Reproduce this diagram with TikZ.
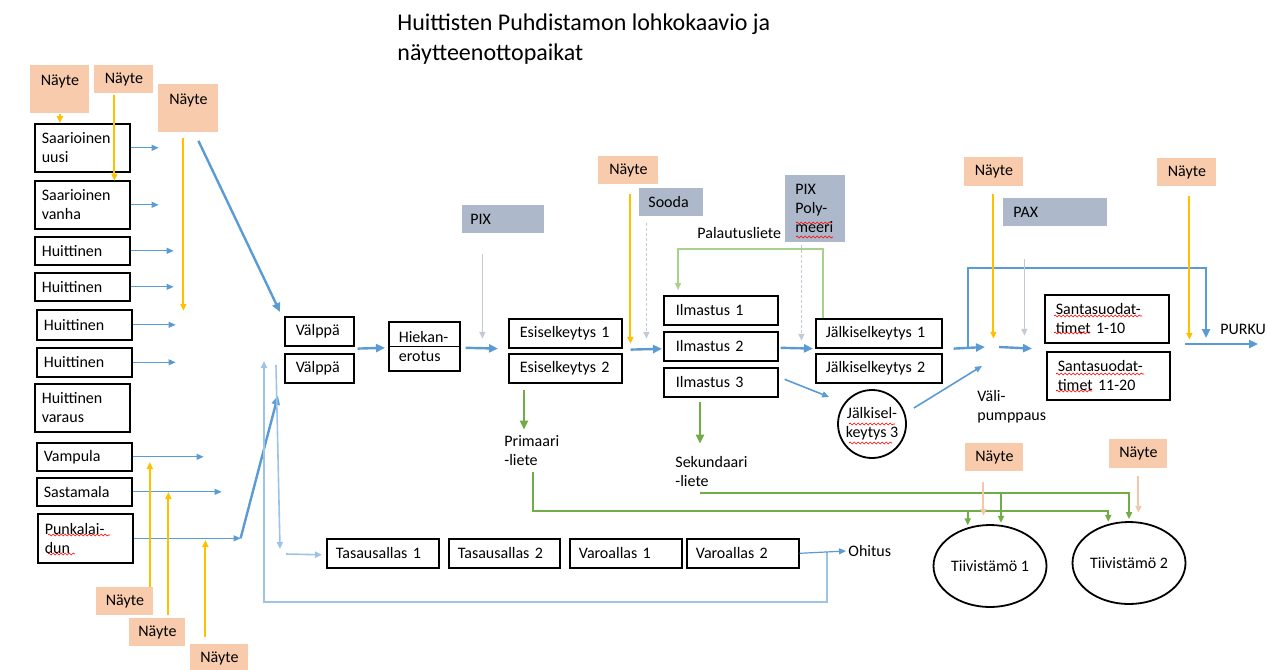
\documentclass[tikz,border=0pt]{standalone}
\usepackage{fontspec}
\setmainfont{Carlito}
\usetikzlibrary{arrows.meta,calc,shapes.geometric,decorations.pathmorphing}

\definecolor{naytec}{HTML}{F8CBAD}
\definecolor{kemc}{HTML}{ADB9CA}
\definecolor{sinic}{HTML}{5B9BD5}
\definecolor{vaalsinic}{HTML}{9DC3E6}
\definecolor{oranssic}{HTML}{FFC000}
\definecolor{persikkac}{HTML}{F4C7A8}
\definecolor{harmaac}{HTML}{C3CAD6}
\definecolor{vihrc}{HTML}{70AD47}
\definecolor{vaalvihrc}{HTML}{A9D18E}

\tikzset{
  teksti/.style={font=\fontsize{8}{9.5}\selectfont},
  otsikko/.style={font=\fontsize{12}{15}\selectfont, anchor=base west, inner sep=0pt},
  box/.style={teksti, draw, line width=0.8pt, anchor=north west, align=left, inner ysep=0pt},
  src/.style={box, inner xsep=3.5pt, text width=40.5pt},
  nayte/.style={teksti, fill=naytec, anchor=north west, inner xsep=0pt, inner ysep=0pt, minimum height=14pt},
  naytepitka/.style={nayte, text height=6pt, text depth=10pt, inner ysep=4pt},
  kem/.style={teksti, fill=kemc, anchor=north west, align=left, inner ysep=0pt, minimum height=14pt},
  pyorea/.style={teksti, circle, draw, line width=0.9pt, minimum size=34pt, inner sep=0pt, align=center},
  tiiv/.style={teksti, ellipse, draw, line width=0.9pt, minimum width=56.5pt, minimum height=41pt, inner sep=0pt},
  lbl/.style={teksti, anchor=west, align=left, inner sep=1pt},
  karki/.style={-{Triangle[length=4.5pt,width=4pt]}},
  pieni/.style={-{Triangle[length=3.5pt,width=3pt]}},
  main/.style={karki, draw=sinic, line width=1.2pt},
  mid/.style={pieni, draw=sinic, line width=0.8pt},
  feed/.style={pieni, draw=sinic, line width=0.6pt},
  ohi/.style={pieni, draw=vaalsinic, line width=0.8pt},
  naytto/.style={pieni, draw=oranssic, line width=1pt},
  naytto2/.style={pieni, draw=persikkac, line width=1pt},
  kemia/.style={pieni, draw=harmaac, line width=0.8pt},
  liete/.style={pieni, draw=vihrc, line width=0.9pt, shorten >=1pt},
  lietepaksu/.style={karki, draw=vihrc, line width=1.2pt},
  palaute/.style={pieni, draw=vaalvihrc, line width=0.7pt},
  pisteet/.style={dash pattern=on 1.5pt off 1pt},
  spell/.style={draw=red, line width=0.3pt, decorate, decoration={snake, amplitude=0.5pt, segment length=2pt}},
}

\begin{document}
\begin{tikzpicture}[x=0.5pt,y=-0.5pt]
\useasboundingbox (0,0) rectangle (1267,669);

\node [otsikko] (ots1) at (397,30) {Huittisten Puhdistamon lohkokaavio ja};
\node [otsikko] (ots2) at (397,60) {näytteenottopaikat};

% lähtevät linjat
\node [src, minimum height=24pt] (suu) at (34,123) {Saarioinen\\uusi};
\node [src, minimum height=24pt] (sva) at (34,180) {Saarioinen\\vanha};
\node [src, minimum height=14pt] (hu1) at (34,236) {Huittinen};
\node [src, minimum height=14pt] (hu2) at (34,272) {Huittinen};
\node [src, minimum height=15pt] (hu3) at (36,309) {Huittinen};
\node [src, minimum height=14.5pt] (hu4) at (36,347) {Huittinen};
\node [src, minimum height=24pt] (huv) at (34,383) {Huittinen\\varaus};
\node [src, minimum height=14pt] (vam) at (36,442) {Vampula};
\node [src, minimum height=14pt] (sas) at (36,477) {Sastamala};
\node [src, minimum height=24.5pt] (pun) at (37,513) {Punkalai-\\dun};

% näytteet
\node [naytepitka, minimum width=29.5pt] (nA) at (30,65) {Näyte};
\node [nayte, minimum width=29.5pt] (nB) at (94,65) {Näyte};
\node [naytepitka, minimum width=30pt] (nC) at (158,84) {Näyte};
\node [nayte, minimum width=28.5pt] (nD) at (96,587) {Näyte};
\node [nayte, minimum width=28pt] (nE) at (129,618) {Näyte};
\node [nayte, minimum width=29pt] (nF) at (190,644) {Näyte};
\node [nayte, minimum width=30pt] (nG) at (598,156) {Näyte};
\node [nayte, minimum width=29.5pt, minimum height=14.5pt] (nH) at (964,157) {Näyte};
\node [nayte, minimum width=29.5pt] (nI) at (1157,158) {Näyte};
\node [nayte, minimum width=29pt] (nJ) at (965,443) {Näyte};
\node [nayte, minimum width=29pt, minimum height=14.5pt] (nK) at (1109,439) {Näyte};

% kemikaalit
\node [kem, inner xsep=4pt, text width=33pt] (pix) at (462,205) {PIX};
\node [kem, inner xsep=4.5pt, text width=23pt] (sooda) at (639,188) {Sooda};
\node [kem, inner xsep=5pt, text width=20pt, minimum height=33.5pt] (pixpol) at (785,175) {PIX\\Poly-\\meeri};
\node [kem, inner xsep=5pt, text width=42pt] (pax) at (1003,198) {PAX};

% prosessi
\node [box, inner xsep=5.5pt, text width=23.5pt, minimum height=14.5pt] (vA) at (284,316) {Välppä};
\node [box, inner xsep=5.5pt, text width=23.5pt, minimum height=14.5pt] (vB) at (284,353) {Välppä};
\node [box, inner xsep=5pt, text width=25.5pt, minimum height=24.5pt] (hiek) at (388,321) {Hiekan-\\erotus};
\node [box, inner xsep=5.5pt, text width=45.5pt, minimum height=14.5pt] (es1) at (508,318) {Esiselkeytys~1};
\node [box, inner xsep=5.5pt, text width=45.5pt, minimum height=14.5pt] (es2) at (508,353) {Esiselkeytys~2};
\node [box, inner xsep=6pt, text width=45pt, minimum height=14.5pt] (il1) at (663,295) {Ilmastus~1};
\node [box, inner xsep=6pt, text width=45pt, minimum height=14.5pt] (il2) at (663,331) {Ilmastus~2};
\node [box, inner xsep=6pt, text width=45pt, minimum height=14.5pt] (il3) at (663,367) {Ilmastus~3};
\node [box, inner xsep=5pt, text width=53pt, minimum height=14.5pt] (jk1) at (815,318) {Jälkiselkeytys~1};
\node [box, inner xsep=5pt, text width=53pt, minimum height=14.5pt] (jk2) at (815,353) {Jälkiselkeytys~2};
\node [pyorea] (jk3) at (872,424) {Jälkisel-\\keytys~3};
\node [box, inner xsep=5.5pt, text width=51pt, minimum height=24pt] (ss1) at (1044,294) {Santasuodat-\\timet~1-10};
\node [box, inner xsep=5.5pt, text width=50.5pt, minimum height=24pt] (ss2) at (1046,351) {Santasuodat-\\timet~11-20};
\node [box, inner xsep=4.5pt, text width=47pt, minimum height=14.5pt] (ta1) at (326,538) {Tasausallas~1};
\node [box, inner xsep=4.5pt, text width=46.5pt, minimum height=14.5pt] (ta2) at (448,538) {Tasausallas~2};
\node [box, inner xsep=4.5pt, text width=47pt, minimum height=14.5pt] (va1) at (569,538) {Varoallas~1};
\node [box, inner xsep=4.5pt, text width=47pt, minimum height=14.5pt] (va2) at (686,538) {Varoallas~2};
\node [tiiv] (ti1) at (990,566) {Tiivistämö 1};
\node [tiiv] (ti2) at (1129,563) {Tiivistämö 2};

\node [lbl] (palaut) at (695,233) {Palautusliete};
\node [lbl] (prim) at (502,451) {Primaari\\-liete};
\node [lbl] (sek) at (673,471) {Sekundaari\\-liete};
\node [lbl] (vpump) at (975,407) {Väli-\\pumppaus};
\node [lbl] (purku) at (1218,329) {PURKU};
\node [lbl] (ohitus) at (846,551) {Ohitus};

\coordinate (mix) at (992,347);
\coordinate (byp) at (968,347);
\coordinate (purkuA) at (1185,344);
\coordinate (purkuB) at (1258,344);
\coordinate (ohj) at (827,552);
\coordinate (paluuPaa) at (264,361);
\coordinate (tasYla) at (276,365);
\coordinate (tasAla) at (280,549);
\coordinate (pline) at (533,511);
\coordinate (sline) at (700,493);

\draw [line width=0.5pt] (hiek.west) -- (hiek.east);

\foreach \s/\l in {suu/28,sva/28,hu1/43,hu2/43,hu3/43,hu4/43,vam/71,sas/89,pun/107}
  \draw [feed] (\s.east) -- ++(\l,0);

\draw [main] ($(nC.south)+(10,8)$) -- ($(vA.north west)+(-4,-4)$);
\draw [main] ($(pun.east)+(107,0)$) -- ($(vB.south west)+(-6,12)$);
\draw [main] ($(vA.south east)+(3,2)$) -- ($(hiek.west)+(-3,1.5)$);
\draw [main] ($(hiek.east)+(5,1.5)$) -- ($(es1.south west)+(-10,0)$);
\draw [main] ($(es1.south east)+(8,1)$) -- ($(il2.west)+(-1,2.5)$);
\draw [main] ($(il2.east)+(2,1.5)$) -- ($(jk1.south west)+(-2,0)$);
\draw [main] ($(jk1.south east)+(11,0)$) -- ($(mix)+(-7,0)$);
\draw [main] ($(mix)+(7,0)$) -- ($(ss1.south west)+(-12,5)$);
\draw [main] (byp) -- ++(0,-79) -| ($(purkuA)+(21,-6)$);
\draw [main] (purkuA) -- (purkuB);
\draw [mid] ($(il3.east)+(6,-3)$) -- ($(jk3.west)+(-8,-27)$);
\draw [mid] ($(jk3.east)+(7,-16)$) -- ($(mix)+(-10,19)$);

\draw [ohi] (ohj) -- ++(0,50) -| (paluuPaa);
\draw [ohi] (tasYla) -- (tasAla);
\draw [ohi] ($(tasAla)+(6,5)$) -- ($(ta1.west)+(-4,1.5)$);
\draw [feed] (va2.east) -- (ohitus.west);

\draw [lietepaksu] ($(es2.south west)+(16,6)$) -- ++(0,40);
\draw [lietepaksu] ($(il3.south west)+(37,4)$) -- ++(0,42);
\draw [liete] ($(prim.south -| pline)+(0,4)$) -- (pline) -| (ti2.118);
\draw [liete] (pline -| ti1.120) -- (ti1.120);
\draw [liete] (sline) -| (ti2.north);
\draw [liete] (sline -| ti1.75) -- (ti1.75);
\draw [palaute] ($(jk1.north west)+(8,0)$) -- ++(0,-69) -| ($(il1.north west)+(15,-5)$);

\draw [naytto] (nA.south) -- (nA.south |- suu.north);
\draw [naytto] ($(nB.south)+(-9.5,1)$) -- ++(0,86);
\draw [naytto] ($(nC.south)+(-5,5)$) -- ++(0,173);
\draw [naytto] ($(nD.north east)+(-4,0)$) -- ++(0,-125);
\draw [naytto] ($(nE.north)+(11,-3)$) -- ++(0,-123);
\draw [naytto] ($(nF.north)+(-14,-7)$) -- ++(0,-97);
\draw [naytto] ($(nG.south)+(2,9)$) -- ++(0,150);
\draw [naytto] ($(nH.south)+(-0.5,7)$) -- ++(0,145);
\draw [naytto] ($(nI.south)+(2.5,9)$) -- ++(0,144);
\draw [naytto2] ($(nJ.south)+(-11,10)$) -- ++(0,34);
\draw [naytto2] ($(nK.south)+(0,7)$) -- ++(0,37);

\draw [kemia] ($(pix.south)+(-21,20)$) -- ++(0,85);
\draw [kemia, pisteet] ($(sooda.south)+(-25,6)$) -- ++(0,116);
\draw [kemia, pisteet] ($(pixpol.south)+(-14,2)$) -- ++(0,96);
\draw [kemia] ($(pax.south)+(-31,32)$) -- ++(0,77);

\draw [spell] (48,535) -- (110,535);
\draw [spell] (48,554) -- (75,554);
\draw [spell] (796,223) -- (831,223);
\draw [spell] (796,237) -- (833,237);
\draw [spell] (849,424) -- (895,424);
\draw [spell] (849,443) -- (892,443);
\draw [spell] (1054,316) -- (1142,316);
\draw [spell] (1054,333) -- (1090,333);
\draw [spell] (1056,374) -- (1144,374);
\draw [spell] (1056,391) -- (1092,391);
\end{tikzpicture}
\end{document}
